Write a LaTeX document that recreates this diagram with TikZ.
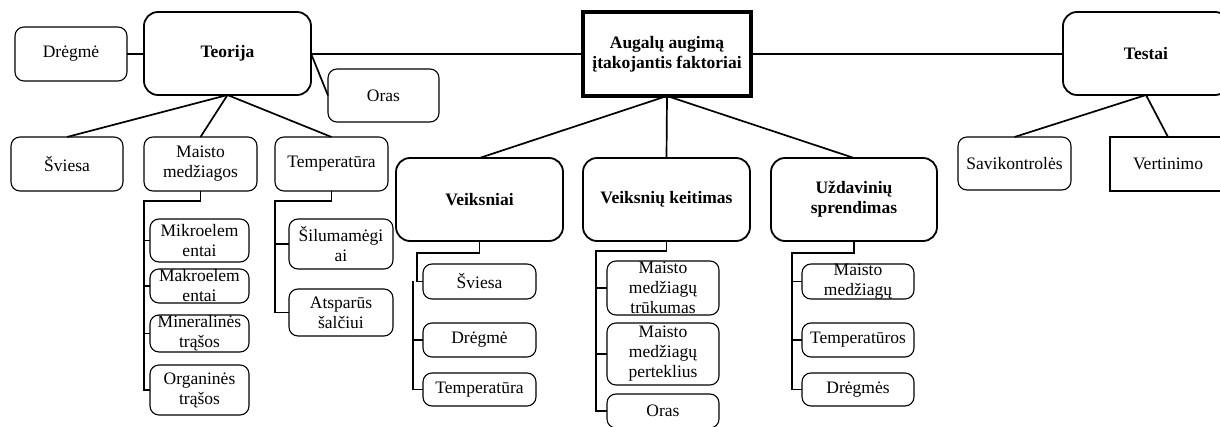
\documentclass[tikz,border=0pt]{standalone}
\usepackage{fontspec}
\setmainfont{Liberation Serif}
% box from corner (x1,y1) to corner (x2,y2); text is set separately at its centre
\newcommand\boxnode[7]{%
  \node[#1, minimum width={(#5-#3)*1pt}, minimum height={(#6-#4)*1pt}]
    (#2) at ({(#3+#5)/2},{(#4+#6)/2}) {};
  \node[txt] at (#2.center) {#7};}
\newcommand\boldnode[7]{%
  \node[#1, minimum width={(#5-#3)*1pt}, minimum height={(#6-#4)*1pt}]
    (#2) at ({(#3+#5)/2},{(#4+#6)/2}) {};
  \node[txt, font=\fontsize{17.5}{20}\selectfont\bfseries] at (#2.center) {#7};}
\begin{document}
\begin{tikzpicture}[x=1pt,y=-1pt,
  every node/.style={inner sep=0pt, outer sep=0pt},
  txt/.style={font=\fontsize{17.5}{20}\selectfont, align=center},
  leaf/.style={draw, line width=1.1pt, rounded corners=9pt},
  major/.style={draw, line width=1.8pt, rounded corners=14pt},
  hub/.style={draw, line width=3.4pt},
  plainbox/.style={draw, line width=1.1pt},
  link/.style={line width=1.7pt}]
\useasboundingbox (0,0) rectangle (1220,427);
\clip (0,0) rectangle (1220,427);

% main level
\boldnode{hub}{hub}{583}{12}{751}{96}{Augalų augimą\\įtakojantis faktoriai}
\boldnode{major}{teo}{144}{12}{311}{95}{Teorija}
\boldnode{major}{tst}{1063}{12}{1229}{95}{Testai}
\boldnode{major}{vk}{396}{158}{563}{241}{Veiksniai}
\boldnode{major}{vkt}{583}{158}{750}{241}{Veiksnių keitimas}
\boldnode{major}{uzd}{771}{158}{937}{241}{Uždavinių\\sprendimas}

% theory branch
\boxnode{leaf}{drg}{15}{27}{127}{81}{Drėgmė}
\boxnode{leaf}{orasA}{328}{69}{439}{122}{Oras}
\boxnode{leaf}{svA}{11}{137}{123}{191}{Šviesa}
\boxnode{leaf}{mm}{144}{137}{257}{191}{Maisto\\medžiagos}
\boxnode{leaf}{temp}{275}{137}{388}{191}{Temperatūra}
\boxnode{leaf}{mikro}{150}{219}{249}{262}{Mikroelem\\entai}
\boxnode{leaf}{makro}{150}{269}{249}{303}{Makroelem\\entai}
\boxnode{leaf}{miner}{150}{315}{249}{352}{Mineralinės\\trąšos}
\boxnode{leaf}{organ}{150}{365}{249}{415}{Organinės\\trąšos}
\boxnode{leaf}{silu}{289}{219}{393}{269}{Šilumamėgi\\ai}
\boxnode{leaf}{atsp}{289}{289}{393}{336}{Atsparūs\\šalčiui}

% factors
\boxnode{leaf}{svB}{423}{264}{536}{299}{Šviesa}
\boxnode{leaf}{drgB}{423}{323}{536}{357}{Drėgmė}
\boxnode{leaf}{tempB}{423}{373}{536}{406}{Temperatūra}

% changing the factors
\boxnode{leaf}{trk}{607}{261}{719}{315}{Maisto\\medžiagų\\trūkumas}
\boxnode{leaf}{pert}{607}{323}{719}{385}{Maisto\\medžiagų\\perteklius}
\boxnode{leaf}{orasB}{607}{394}{719}{428}{Oras}

% problem solving
\boxnode{leaf}{mmC}{802}{264}{914}{299}{Maisto\\medžiagų}
\boxnode{leaf}{tempC}{802}{323}{914}{357}{Temperatūros}
\boxnode{leaf}{drgC}{802}{373}{914}{406}{Drėgmės}

% tests
\boxnode{leaf}{savi}{958}{137}{1071}{190}{Savikontrolės}
\boxnode{plainbox}{vert}{1110}{137}{1226}{191}{Vertinimo}

% top row links
\draw[link] (drg.east) -- (drg.east -| teo.west);
\draw[link] (hub.west) -- (hub.west -| teo.east);
\draw[link] (hub.east) -- (hub.east -| tst.west);
\draw[link] (teo.east) -- (orasA.west);

% fans
\draw[link] (teo.south) -- (svA.north);
\draw[link] (teo.south) -- (mm.north);
\draw[link] (teo.south) -- (temp.north);
\draw[link] (hub.south) -- (vk.north);
\draw[link] (hub.south) -- (vkt.north);
\draw[link] (hub.south) -- (uzd.north);
\draw[link] (tst.south) -- (savi.north);
\draw[link] (tst.south) -- (vert.north);

% bracket connectors
\draw[link] (mm.south) -- ++(0,10) -| ([xshift=-6pt]organ.west) -- (organ.west);
\foreach \n in {mikro,makro,miner} \draw[link] (\n.west) -- ++(-6,0);

\draw[link] (temp.south) -- ++(0,10) -| ([xshift=-14pt]atsp.south west |- atsp.west) -- (atsp.west);
\draw[link] (silu.west) -- ++(-14,0);

\draw[link] (vk.south) -- ++(0,12) -| ([xshift=-6pt]svB.west) -- (svB.west);
\draw[link] ([xshift=-10pt]svB.west) -- ([xshift=-10pt]tempB.west) -- (tempB.west);
\draw[link] (drgB.west) -- ++(-10,0);

\draw[link] (vkt.south) -- ++(0,10) -| ([xshift=-11pt]orasB.west) -- (orasB.west);
\foreach \n in {trk,pert} \draw[link] (\n.west) -- ++(-11,0);

\draw[link] (uzd.south) -- ++(0,12) -| ([xshift=-10pt]drgC.west) -- (drgC.west);
\foreach \n in {mmC,tempC} \draw[link] (\n.west) -- ++(-10,0);
\end{tikzpicture}
\end{document}
